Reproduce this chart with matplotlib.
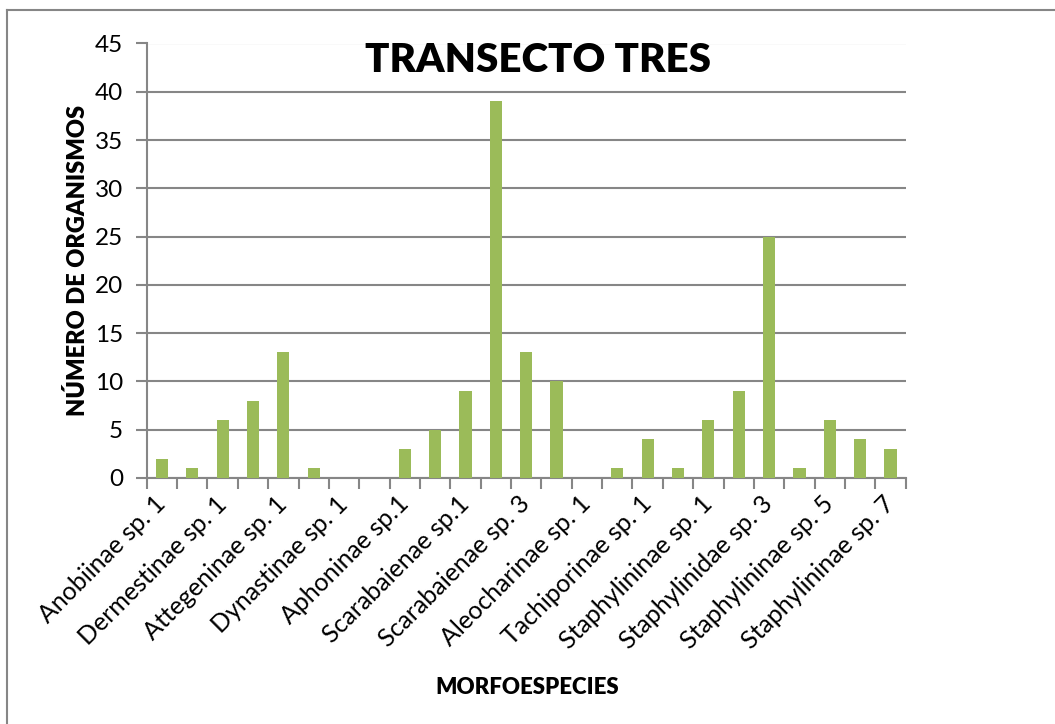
import matplotlib.pyplot as plt
import matplotlib.lines as mlines
import numpy as np

plt.rcParams['font.family'] = ['Lato', 'DejaVu Sans']

categorias = ['Anobiinae sp. 1', 'Anobiinae sp. 2', 'Dermestinae sp. 1', 'Dermestinae sp. 2',
              'Attegeninae sp. 1', 'Attegeninae sp. 2', 'Dynastinae sp. 1', 'Dynastinae sp. 2',
              'Aphoninae sp.1', 'Aphoninae sp.2', 'Scarabaienae sp.1', 'Scarabaienae sp. 2',
              'Scarabaienae sp. 3', 'Scarabaienae sp. 4', 'Aleocharinae sp. 1', 'Aleocharinae sp. 2',
              'Tachiporinae sp. 1', 'Tachiporinae sp. 2', 'Staphylininae sp. 1', 'Staphylininae sp. 2',
              'Staphylinidae sp. 3', 'Staphylininae sp. 4', 'Staphylininae sp. 5', 'Staphylininae sp. 6',
              'Staphylininae sp. 7']
organismos = [2, 1, 6, 8, 13, 1, 0, 0, 3, 5, 9, 39, 13, 10, 0, 1, 4, 1, 6, 9, 25, 1, 6, 4, 3]
yticks = list(range(0, 50, 5))

W, H = 1055, 724
fig = plt.figure(figsize=(W/100, H/100), dpi=100)
ax = fig.add_axes([146.7/W, 1-478/H, (905.7-146.7)/W, (478-43.5)/H])

gris = '#868686'
x = np.arange(len(categorias))
ax.bar(x, organismos, 0.4, color='#9BBB59', zorder=3)

ax.set_xlim(-0.5, len(categorias)-0.5)
ax.set_ylim(0, 45)
ax.set_yticks(yticks)
ax.yaxis.grid(True, color=gris, linewidth=1.5, zorder=0)
for s in ['top', 'right']:
    ax.spines[s].set_visible(False)
for s in ['left', 'bottom']:
    ax.spines[s].set_color(gris)
    ax.spines[s].set_linewidth(1.5)

ax.set_xticks(np.arange(-0.5, len(categorias)), minor=False)
ax.set_xticklabels([])
ax.set_xticks(x[::2], minor=True)
ax.set_xticklabels(categorias[::2], minor=True, rotation=45, ha='right', va='center',
                   rotation_mode='anchor', fontsize=18)
ax.tick_params(axis='x', which='major', length=8, width=1.5, color=gris)
ax.tick_params(axis='x', which='minor', length=0, pad=16)
ax.tick_params(axis='y', length=8, width=1.5, color=gris, labelsize=17.5, pad=9)

ax.set_ylabel('NÚMERO DE ORGANISMOS', fontsize=17, fontweight='heavy', labelpad=4)
fig.text(527/W, 1-688/H, 'MORFOESPECIES', fontsize=16, fontweight='heavy', ha='center', va='center')
fig.text(538/W, 1-61/H, 'TRANSECTO TRES', fontsize=29, fontweight='heavy', ha='center', va='center')

# borde del area del grafico (solo visible arriba e izquierda)
fig.add_artist(mlines.Line2D([7/W, 7/W], [0, 1-9.5/H], color=gris, linewidth=1.5))
fig.add_artist(mlines.Line2D([7/W, 1], [1-9.5/H, 1-9.5/H], color=gris, linewidth=1.5))

fig.savefig('out.png', dpi=100)
